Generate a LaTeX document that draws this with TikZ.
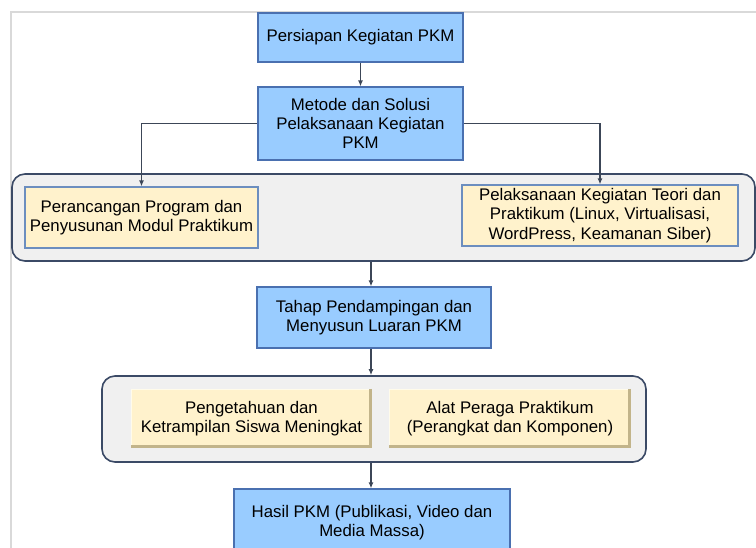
\documentclass[tikz,border=0pt]{standalone}
\usepackage{fontspec}
\setmainfont{Liberation Sans}
\usetikzlibrary{arrows.meta,calc}
\definecolor{bluefill}{HTML}{99CCFF}
\definecolor{blueline}{HTML}{4A70B0}
\definecolor{yelfill}{HTML}{FFF2CC}
\definecolor{yelline}{HTML}{6C8EBF}
\definecolor{grpfill}{HTML}{F0F0F0}
\definecolor{grpline}{HTML}{3B4A66}
\definecolor{arrcol}{HTML}{3C4657}
\definecolor{framecol}{HTML}{D9D9D9}
\definecolor{bevdark}{HTML}{C2B48A}
\definecolor{bevlight}{HTML}{FFFBEA}
\begin{document}
\begin{tikzpicture}[x=1pt,y=1pt,
  txt/.style={font=\fontsize{16.8}{19.2}\selectfont, align=center, text=black, inner sep=0pt},
  bluebox/.style={txt, draw=blueline, fill=bluefill, line width=1.2pt},
  yelbox/.style={txt, draw=yelline, fill=yelfill, line width=1.2pt},
  bevbox/.style={txt, fill=yelfill},
  group/.style={draw=grpline, fill=grpfill, line width=1.6pt, rounded corners=13pt, inner sep=0pt},
  arr/.style={draw=arrcol, line width=1.9pt, -{Latex[length=6pt,width=5pt]}}]
\useasboundingbox (0,0) rectangle (756,-547);
\clip (0,0) rectangle (756,-547);
\fill[white] (0,0) rectangle (756,-547);
% frame
\draw[framecol, line width=1.5pt] (11,-560) -- (11,-12) -- (770,-12);
% groups
\node[group, minimum width=743pt, minimum height=87pt] (g1) at (383.5,-217.5) {};
\node[group, minimum width=544pt, minimum height=86pt] (g2) at (374,-419) {};
% boxes
\node[bluebox, minimum width=205pt, minimum height=49pt] (b1) at (360.5,-37.5) {Persiapan Kegiatan PKM};
\node[bluebox, minimum width=205pt, minimum height=73pt] (b2) at (360.5,-123.5) {Metode dan Solusi\\Pelaksanaan Kegiatan\\PKM};
\node[yelbox, minimum width=233pt, minimum height=61pt] (b3) at (141.5,-217.5) {Perancangan Program dan\\Penyusunan Modul Praktikum};
\node[yelbox, minimum width=276pt, minimum height=61pt] (b4) at (600,-215.5) {Pelaksanaan Kegiatan Teori dan\\Praktikum (Linux, Virtualisasi,\\WordPress, Keamanan Siber)};
\node[bluebox, minimum width=234pt, minimum height=61pt] (b5) at (374,-317.5) {Tahap Pendampingan dan\\Menyusun Luaran PKM};
\node[bevbox, minimum width=241pt, minimum height=59pt] (b6) at (251.5,-418.5) {Pengetahuan dan\\Ketrampilan Siswa Meningkat};
\node[bevbox, minimum width=242pt, minimum height=59pt] (b7) at (510,-418.5) {Alat Peraga Praktikum\\(Perangkat dan Komponen)};
\node[bluebox, minimum width=276pt, minimum height=67pt] (b8) at (372,-522.5) {Hasil PKM (Publikasi, Video dan\\Media Massa)};
% bevels
\foreach \b in {b6,b7}{
  \draw[bevlight, line width=1.5pt] ($(\b.south west)+(0.75,0)$) -- ($(\b.north west)+(0.75,-0.75)$) -- ($(\b.north east)+(0,-0.75)$);
  \draw[bevdark, line width=3.5pt] ($(\b.north east)+(-1.75,0)$) -- ($(\b.south east)+(-1.75,1.75)$) -- ($(\b.south west)+(0,1.75)$);
}
% connectors
\coordinate (cx) at (371,0);
\draw[arr] (b1.south) -- (b2.north);
\draw[arr] (b2.west) -| (b3.north);
\draw[arr] (b2.east) -| (b4.north);
\draw[arr] (g1.south -| cx) -- (b5.north -| cx);
\draw[arr] (b5.south -| cx) -- (g2.north -| cx);
\draw[arr] (g2.south -| cx) -- (b8.north -| cx);
\end{tikzpicture}
\end{document}
